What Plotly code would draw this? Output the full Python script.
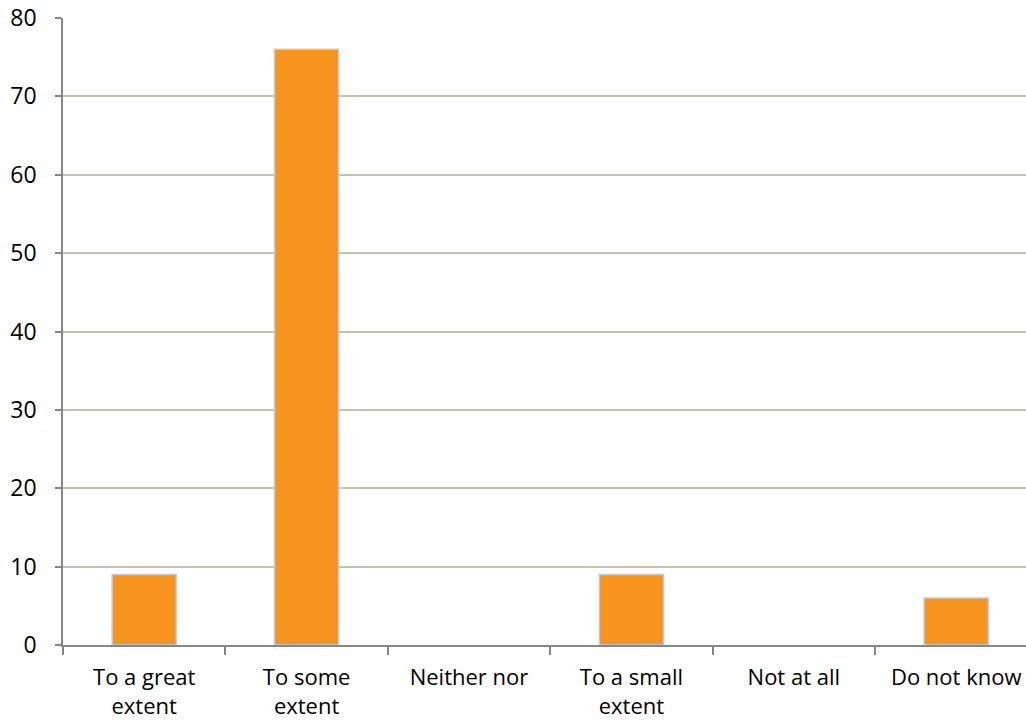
import plotly.graph_objects as go

categories = ["To a great<br>extent", "To some<br>extent", "Neither nor",
              "To a small<br>extent", "Not at all", "Do not know"]
values = [9, 76, 0, 9, 0, 6]
y_ticks = [0, 10, 20, 30, 40, 50, 60, 70, 80]

# plot area spans 963px; each category slot is ~162.4px wide
slot_px = 162.4
plot_w = 1026 - 63

fig = go.Figure(go.Bar(
    x=categories,
    y=values,
    width=0.395,
    marker=dict(
        color="#F7941E",
        line=dict(color="#B9CDE5", width=[1.5 if v else 0 for v in values]),
    ),
))

fig.update_layout(
    width=1026, height=724,
    margin=dict(l=63, r=0, t=18, b=79),
    paper_bgcolor="white", plot_bgcolor="white",
    showlegend=False,
    font=dict(family="Open Sans, sans-serif", size=23, color="#000000"),
)
fig.update_xaxes(
    type="category",
    range=[-0.5, -0.5 + plot_w / slot_px],
    tickson="boundaries",
    ticks="outside", ticklen=8, tickcolor="#868686", tickwidth=1.5,
    showline=True, linecolor="#868686", linewidth=1.5,
    showgrid=False, zeroline=False,
    ticklabelstandoff=12,
    tickfont=dict(size=22),
)
fig.update_yaxes(
    range=[0, 80],
    tickvals=y_ticks,
    ticks="outside", ticklen=6, tickcolor="#868686", tickwidth=1.5,
    showline=True, linecolor="#868686", linewidth=1.5,
    showgrid=True, gridcolor="#C4C4AA", gridwidth=1.5,
    zeroline=False,
    ticklabelstandoff=14,
    tickfont=dict(size=23),
)

fig.write_html("out.html")
